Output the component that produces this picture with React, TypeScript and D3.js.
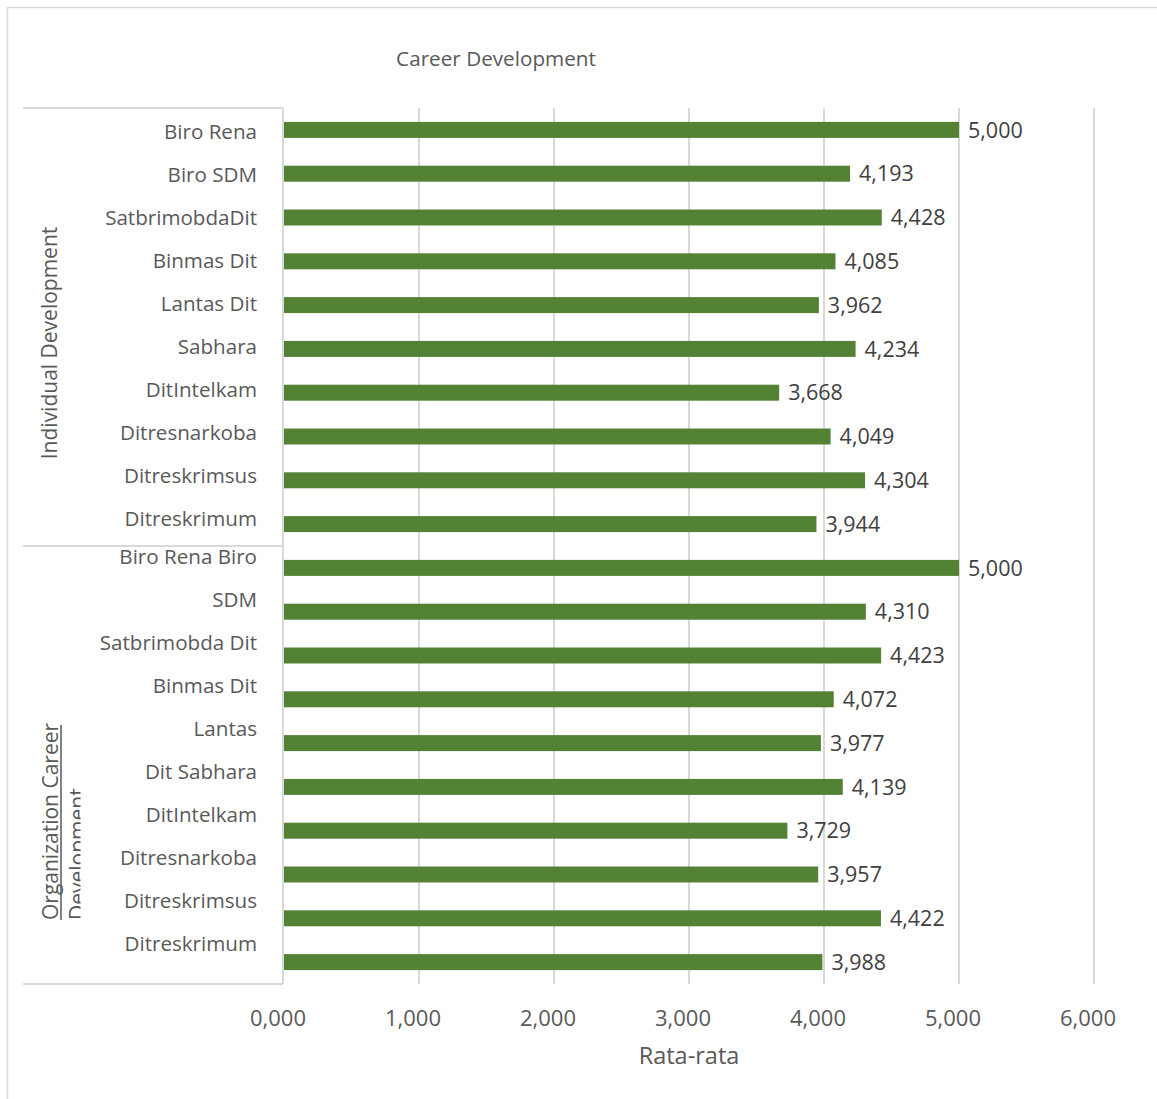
import React from "react";
import * as d3 from "d3";

const groups = ["Individual Development", "Organization Career Development"];
const categoriesIndividual = [
  "Biro Rena", "Biro SDM", "SatbrimobdaDit", "Binmas Dit", "Lantas Dit",
  "Sabhara", "DitIntelkam", "Ditresnarkoba", "Ditreskrimsus", "Ditreskrimum",
];
const categoriesOrganization = [
  "Biro Rena Biro", "SDM", "Satbrimobda Dit", "Binmas Dit", "Lantas",
  "Dit Sabhara", "DitIntelkam", "Ditresnarkoba", "Ditreskrimsus", "Ditreskrimum",
];
const valuesIndividual = [5.0, 4.193, 4.428, 4.085, 3.962, 4.234, 3.668, 4.049, 4.304, 3.944];
const valuesOrganization = [5.0, 4.31, 4.423, 4.072, 3.977, 4.139, 3.729, 3.957, 4.422, 3.988];
const xTicks = [0, 1, 2, 3, 4, 5, 6];
const title = "Career Development";
const xTitle = "Rata-rata";

const FONT = "'Open Sans', sans-serif";
const GREEN = "#548235";
const GRID = "#d9d9d9";
const TEXT = "#595959";
const LABEL = "#404040";

const locale = d3.formatLocale({ decimal: ",", thousands: ".", grouping: [3], currency: ["", ""] });
const fmt = locale.format(".3f");

export default function App() {
  const W = 1157, H = 1099;
  const left = 284, right = 1094, top = 108, bottom = 984;
  const catLeft = 23;

  const rows = [
    ...valuesIndividual.map((v, i) => ({ key: "a" + i, value: v })),
    ...valuesOrganization.map((v, i) => ({ key: "b" + i, value: v })),
  ];

  const x = d3.scaleLinear().domain([0, 6]).range([left, right]);
  const y = d3.scaleBand<string>().domain(rows.map((r) => r.key)).range([top, bottom]).paddingInner(0.635).paddingOuter(0.3175);

  const sepY = y("b0")! - (y.step() - y.bandwidth()) / 2;
  const labelStep = 43;
  const groupLabelStart = [top + 25, sepY + 12];
  const allCats = [categoriesIndividual, categoriesOrganization];

  return (
    <svg width={W} height={H} style={{ position: "absolute", left: 0, top: 0, background: "#fff" }} fontFamily={FONT}>
      <rect x={7.5} y={7.5} width={W + 10} height={H + 10} fill="#fff" stroke={GRID} strokeWidth={1.5} />
      <text x={496} y={60} textAnchor="middle" dominantBaseline="middle" fontSize={20.7} fill={TEXT}>{title}</text>

      {xTicks.slice(1).map((t) => (
        <line key={t} x1={x(t)} x2={x(t)} y1={top} y2={bottom} stroke={GRID} strokeWidth={2} />
      ))}

      {/* category frame */}
      <line x1={catLeft} x2={left - 1} y1={top} y2={top} stroke={GRID} strokeWidth={2} />
      <line x1={catLeft} x2={left - 1} y1={sepY} y2={sepY} stroke={GRID} strokeWidth={2} />
      <line x1={catLeft} x2={left - 1} y1={bottom} y2={bottom} stroke={GRID} strokeWidth={2} />
      <line x1={left - 1} x2={left - 1} y1={top} y2={bottom} stroke={GRID} strokeWidth={2} />

      {rows.map((r) => (
        <rect key={r.key} x={x(0)} y={y(r.key)!} width={x(r.value) - x(0)} height={y.bandwidth()} fill={GREEN} />
      ))}
      {rows.map((r) => (
        <text key={"l" + r.key} x={x(r.value) + 9} y={y(r.key)! + y.bandwidth() / 2 + 2} dominantBaseline="middle" fontSize={21.5} fill={LABEL}>
          {fmt(r.value)}
        </text>
      ))}

      {allCats.map((cats, gi) =>
        cats.map((c, i) => (
          <text key={gi + "-" + i} x={257} y={groupLabelStart[gi] + i * labelStep} textAnchor="end" dominantBaseline="middle" fontSize={20.6} fill={TEXT}>
            {c}
          </text>
        ))
      )}

      {/* group labels */}
      <text transform={`translate(57, ${(top + sepY) / 2 + 16}) rotate(-90)`} textAnchor="middle" fontSize={21} fill={TEXT}>{groups[0]}</text>
      <defs>
        <clipPath id="orgClip">
          <rect x={20} y={700} width={60.5} height={240} />
        </clipPath>
      </defs>
      <g clipPath="url(#orgClip)">
        <text transform={`translate(58, 920) rotate(-90)`} textAnchor="start" fontSize={21} fill={TEXT}>{groups[1].split(" ").slice(0, 2).join(" ")}</text>
        <text transform={`translate(85, 920) rotate(-90)`} textAnchor="start" fontSize={21} fill={TEXT}>{groups[1].split(" ").slice(2).join(" ")}</text>
      </g>
      <line x1={61} x2={61} y1={725} y2={920} stroke={TEXT} strokeWidth={1.5} />

      {xTicks.map((t) => (
        <text key={"t" + t} x={x(t) - 6} y={1020} textAnchor="middle" dominantBaseline="middle" fontSize={22} fill={TEXT}>{fmt(t)}</text>
      ))}
      <text x={689} y={1058} textAnchor="middle" dominantBaseline="middle" fontSize={23.5} fill={TEXT}>{xTitle}</text>
    </svg>
  );
}
